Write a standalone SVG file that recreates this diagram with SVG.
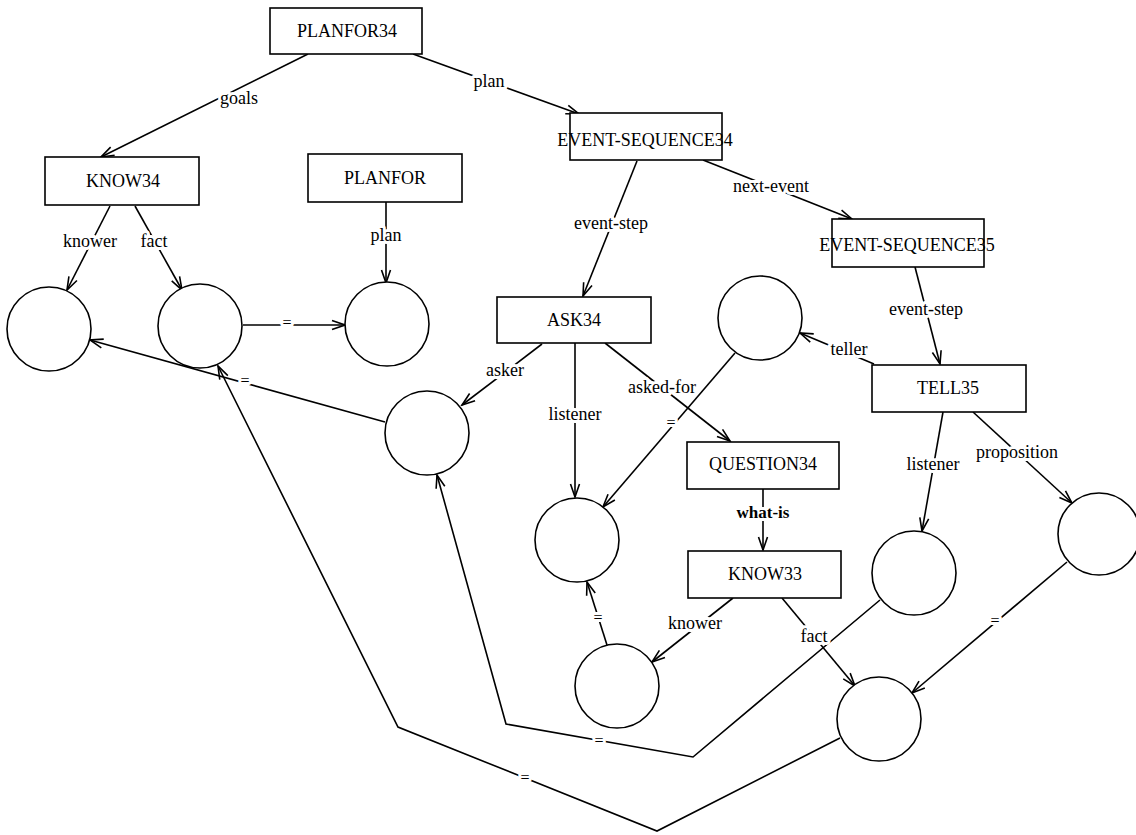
<svg xmlns="http://www.w3.org/2000/svg" width="1136" height="835" viewBox="0 0 1136 835">
  <style>
    .box { fill: #fff; stroke: #000; stroke-width: 1.6; }
    .obj { fill: #fff; stroke: #000; stroke-width: 1.6; }
    .name { font-family: "Liberation Serif", "Times New Roman", serif; font-size: 18px; text-anchor: middle; fill: #000; }
    .edge { fill: none; stroke: #000; stroke-width: 1.6; marker-end: url(#arrow); }
    .lbl { font-family: "Liberation Serif", "Times New Roman", serif; font-size: 18px; text-anchor: middle; fill: #000;
           stroke: #fff; stroke-width: 6px; stroke-linejoin: round; paint-order: stroke; }
    .eq { font-size: 16px; }
    .bold { font-weight: bold; font-size: 17px; }
  </style>
  <defs>
    <marker id="arrow" viewBox="-14 -7 16 14" refX="0" refY="0" markerWidth="16" markerHeight="14"
            markerUnits="userSpaceOnUse" orient="auto">
      <path d="M-13,-4.5 L0,0 L-13,4.5" fill="none" stroke="#000" stroke-width="1.6"/>
    </marker>
  </defs>
  <rect width="1136" height="835" fill="#fff"/>

  <!-- connectors -->
  <g id="connectors">
    <line class="edge" x1="308" y1="54" x2="101" y2="157"/>
    <line class="edge" x1="413" y1="54" x2="579" y2="114"/>
    <line class="edge" x1="110" y1="206" x2="67" y2="290"/>
    <line class="edge" x1="135" y1="206" x2="182" y2="290"/>
    <line class="edge" x1="386" y1="202" x2="386" y2="283"/>
    <line class="edge" x1="243" y1="325" x2="345" y2="325"/>
    <line class="edge" x1="385" y1="422" x2="90" y2="340"/>
    <line class="edge" x1="637" y1="161" x2="583" y2="296"/>
    <line class="edge" x1="703" y1="160" x2="852" y2="219"/>
    <line class="edge" x1="915" y1="267" x2="940" y2="364"/>
    <line class="edge" x1="874" y1="364" x2="800" y2="333"/>
    <line class="edge" x1="542" y1="344" x2="462" y2="405"/>
    <line class="edge" x1="575" y1="343" x2="575" y2="497"/>
    <line class="edge" x1="605" y1="343" x2="730" y2="441"/>
    <line class="edge" x1="735" y1="353" x2="603" y2="507"/>
    <line class="edge" x1="763" y1="489" x2="763" y2="550"/>
    <line class="edge" x1="943" y1="412" x2="922" y2="531"/>
    <line class="edge" x1="973" y1="412" x2="1072" y2="503"/>
    <line class="edge" x1="733" y1="598" x2="652" y2="662"/>
    <line class="edge" x1="782" y1="598" x2="855" y2="686"/>
    <line class="edge" x1="607" y1="645" x2="587" y2="582"/>
    <line class="edge" x1="1067" y1="562" x2="912" y2="693"/>
    <polyline class="edge" points="880,600 693,757 506,724 437,475"/>
    <polyline class="edge" points="840,738 657,831 398,727 218,366"/>

    <text class="lbl" x="239" y="104">goals</text>
    <text class="lbl" x="489" y="87">plan</text>
    <text class="lbl" x="90" y="247">knower</text>
    <text class="lbl" x="154" y="247">fact</text>
    <text class="lbl" x="386" y="241">plan</text>
    <text class="lbl eq" x="287" y="328">=</text>
    <text class="lbl eq" x="245" y="386">=</text>
    <text class="lbl" x="611" y="229">event-step</text>
    <text class="lbl" x="771" y="192">next-event</text>
    <text class="lbl" x="926" y="315">event-step</text>
    <text class="lbl" x="849" y="355">teller</text>
    <text class="lbl" x="505" y="376">asker</text>
    <text class="lbl" x="575" y="420">listener</text>
    <text class="lbl" x="662" y="393">asked-for</text>
    <text class="lbl eq" x="671" y="428">=</text>
    <text class="lbl bold" x="763" y="518">what-is</text>
    <text class="lbl" x="933" y="470">listener</text>
    <text class="lbl" x="1017" y="458">proposition</text>
    <text class="lbl" x="695" y="629">knower</text>
    <text class="lbl" x="814" y="642">fact</text>
    <text class="lbl eq" x="598" y="623">=</text>
    <text class="lbl eq" x="599" y="746">=</text>
    <text class="lbl eq" x="525" y="783">=</text>
    <text class="lbl eq" x="995" y="626">=</text>
  </g>

  <!-- frame nodes -->
  <g id="planfor34"><rect class="box" x="270" y="8" width="152" height="46"/><text class="name" x="347" y="37">PLANFOR34</text></g>
  <g id="know34"><rect class="box" x="45" y="157" width="154" height="48"/><text class="name" x="123" y="187">KNOW34</text></g>
  <g id="planfor"><rect class="box" x="308" y="154" width="154" height="48"/><text class="name" x="385" y="184">PLANFOR</text></g>
  <g id="event-sequence34"><rect class="box" x="570" y="113" width="152" height="47"/><text class="name" x="645" y="146">EVENT-SEQUENCE34</text></g>
  <g id="event-sequence35"><rect class="box" x="832" y="219" width="152" height="48"/><text class="name" x="907" y="251">EVENT-SEQUENCE35</text></g>
  <g id="ask34"><rect class="box" x="497" y="297" width="154" height="46"/><text class="name" x="574" y="326">ASK34</text></g>
  <g id="tell35"><rect class="box" x="872" y="365" width="154" height="47"/><text class="name" x="948" y="394">TELL35</text></g>
  <g id="question34"><rect class="box" x="687" y="442" width="152" height="47"/><text class="name" x="763" y="470">QUESTION34</text></g>
  <g id="know33"><rect class="box" x="688" y="551" width="153" height="47"/><text class="name" x="765" y="580">KNOW33</text></g>

  <!-- unnamed value nodes -->
  <g id="c-knower34"><circle class="obj" cx="49" cy="329" r="42"/></g>
  <g id="c-fact34"><circle class="obj" cx="200" cy="326" r="42"/></g>
  <g id="c-plan"><circle class="obj" cx="387" cy="324" r="42"/></g>
  <g id="c-asker"><circle class="obj" cx="427" cy="433" r="42"/></g>
  <g id="c-teller"><circle class="obj" cx="760" cy="318" r="42"/></g>
  <g id="c-listener34"><circle class="obj" cx="577" cy="540" r="42"/></g>
  <g id="c-knower33"><circle class="obj" cx="617" cy="686" r="42"/></g>
  <g id="c-listener35"><circle class="obj" cx="914" cy="573" r="42"/></g>
  <g id="c-proposition"><circle class="obj" cx="1099" cy="534" r="41"/></g>
  <g id="c-fact33"><circle class="obj" cx="879" cy="719" r="42"/></g>
</svg>
